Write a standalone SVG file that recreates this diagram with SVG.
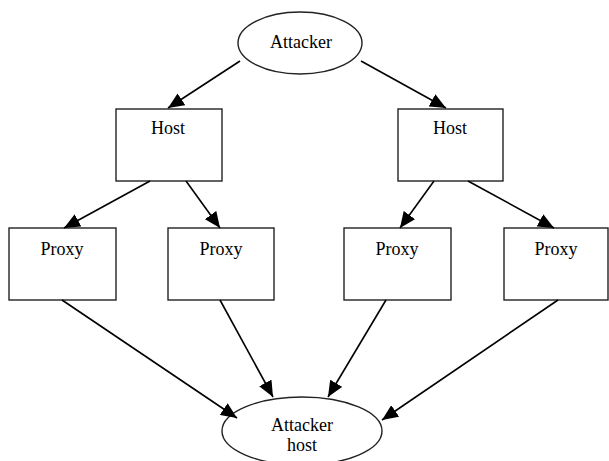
<svg xmlns="http://www.w3.org/2000/svg" width="609" height="461" viewBox="0 0 609 461">
<style>
.n{fill:#fff;stroke:#222;stroke-width:1.4}
.t{font-family:"Liberation Serif","Times New Roman",serif;font-size:18px;fill:#000;text-anchor:middle}
.c{stroke:#000;stroke-width:1.6;fill:none;marker-end:url(#ah)}
</style>
<defs>
<marker id="ah" markerUnits="userSpaceOnUse" markerWidth="16" markerHeight="14" refX="16" refY="7" orient="auto">
<path d="M0,0 L16,7 L0,14 Z" fill="#000"/>
</marker>
</defs>
<rect width="609" height="461" fill="#fff"/>
<g id="attacker"><ellipse class="n" cx="300" cy="43" rx="62" ry="31"/><text class="t" x="301" y="48">Attacker</text></g>
<g id="host1"><rect class="n" x="116" y="109" width="106" height="72"/><text class="t" x="168" y="134">Host</text></g>
<g id="host2"><rect class="n" x="398" y="109" width="105" height="72"/><text class="t" x="450" y="134">Host</text></g>
<g id="proxy1"><rect class="n" x="9" y="228" width="107" height="72"/><text class="t" x="62" y="255">Proxy</text></g>
<g id="proxy2"><rect class="n" x="168" y="228" width="106" height="72"/><text class="t" x="221" y="255">Proxy</text></g>
<g id="proxy3"><rect class="n" x="344" y="228" width="107" height="72"/><text class="t" x="397" y="255">Proxy</text></g>
<g id="proxy4"><rect class="n" x="504" y="228" width="104" height="72"/><text class="t" x="556" y="255">Proxy</text></g>
<g id="attackerhost"><ellipse class="n" cx="302" cy="431" rx="80" ry="34"/><text class="t" x="302" y="431">Attacker</text><text class="t" x="302" y="451">host</text></g>
<g id="connectors">
<line class="c" x1="240" y1="61" x2="168" y2="108"/>
<line class="c" x1="361" y1="61" x2="446" y2="108"/>
<line class="c" x1="150" y1="181" x2="64" y2="228"/>
<line class="c" x1="186" y1="181" x2="220" y2="228"/>
<line class="c" x1="434" y1="181" x2="400" y2="228"/>
<line class="c" x1="468" y1="181" x2="554" y2="228"/>
<line class="c" x1="62" y1="300" x2="237" y2="418"/>
<line class="c" x1="220" y1="300" x2="273" y2="397"/>
<line class="c" x1="386" y1="300" x2="328" y2="397"/>
<line class="c" x1="558" y1="300" x2="382" y2="420"/>
</g>
</svg>
